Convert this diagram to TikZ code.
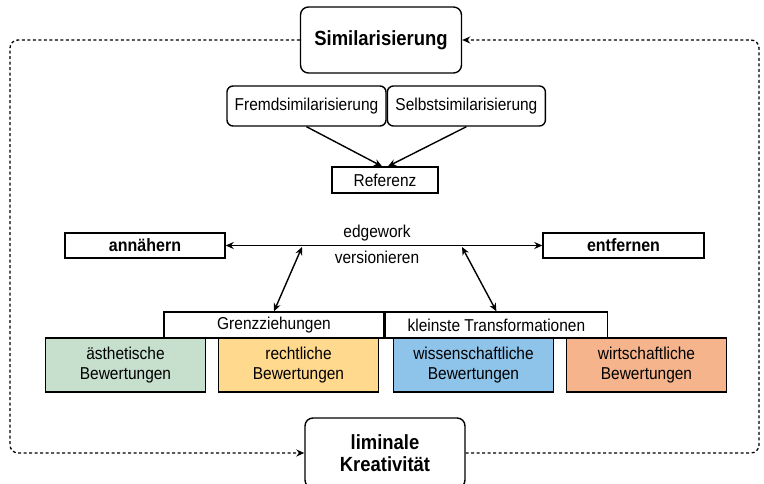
\documentclass[tikz,border=0pt]{standalone}
\usepackage{fontspec}
\setmainfont{Liberation Sans}[FakeStretch=0.9]
\usetikzlibrary{positioning,arrows.meta}
\definecolor{aesthcol}{HTML}{C6E0CD}
\definecolor{rechtcol}{HTML}{FFD98E}
\definecolor{wisscol}{HTML}{8EC3EA}
\definecolor{wirtcol}{HTML}{F5B48C}

\begin{document}
\begin{tikzpicture}[x=1pt, y=-1pt, line width=1.4pt, >={Stealth[length=8pt,width=7pt]},
  font=\fontsize{17.2}{20}\selectfont,
  rbox/.style = {draw, rounded corners=6pt, align=center, inner sep=0pt},
  sbox/.style = {draw, align=center, inner sep=0pt},
  cbox/.style = {draw, fill=#1, align=center, inner sep=0pt, minimum width=160pt, minimum height=54pt},
  bigbold/.style = {font=\fontsize{20.5}{22}\selectfont\bfseries},
  loopline/.style = {line width=1.3pt, dash pattern=on 3pt off 2.5pt, rounded corners=8pt}]
	\useasboundingbox (0,0) rectangle (764,484);
	% oben
	\node[rbox, bigbold, rounded corners=8pt, minimum width=161pt, minimum height=66pt] (sim) at (381,40) {Similarisierung};
	\node[rbox, minimum width=159pt, minimum height=40pt] (fremd) at (306.5,106) {Fremdsimilarisierung};
	\node[rbox, minimum width=158pt, minimum height=40pt, right=0pt of fremd] (selbst) {Selbstsimilarisierung};
	\node[sbox, minimum width=106pt, minimum height=26pt] (ref) at (385,180) {Referenz};
	% mitte
	\node[sbox, font=\fontsize{17.8}{20}\selectfont\bfseries, minimum width=160pt, minimum height=25pt] (ann) at (145,245.5) {annähern};
	\node[sbox, font=\fontsize{17.8}{20}\selectfont\bfseries, minimum width=161pt, minimum height=25pt] (ent) at (623.5,245.5) {entfernen};
	\node[anchor=base] (edge) at (377,237) {edgework};
	\node[anchor=base] (vers) at (377,264) {versionieren};
	\coordinate (e1) at (302,247);
	\coordinate (e2) at (462,247);
	% unten
	\node[sbox, minimum width=220pt, minimum height=26pt] (grenz) at (274,325) {Grenzziehungen};
	\node[sbox, minimum width=222pt, minimum height=26pt, right=0pt of grenz] (klein) {kleinste Transformationen};
	\node[cbox=aesthcol] (aesth) at (125.5,365) {ästhetische\\Bewertungen};
	\node[cbox=rechtcol] (recht) at (298.5,365) {rechtliche\\Bewertungen};
	\node[cbox=wisscol] (wiss) at (473.5,365) {wissenschaftliche\\Bewertungen};
	\node[cbox=wirtcol] (wirt) at (646.5,365) {wirtschaftliche\\Bewertungen};
	\node[rbox, bigbold, rounded corners=8pt, minimum width=160pt, minimum height=70pt] (lim) at (385,453) {liminale\\Kreativität};
	% verbindungen
	\draw[->] (fremd.south) -- ([xshift=-3pt]ref.north);
	\draw[->] (selbst.south) -- ([xshift=3pt]ref.north);
	\draw[<->] (ann) -- (ent);
	\draw[<->] (e1) -- (grenz.north);
	\draw[<->] (e2) -- (klein.north);
	\draw[loopline, ->] (sim.west) -| (10,453) -- (lim.west);
	\draw[loopline, ->] (lim.east) -| (759,40) -- (sim.east);
\end{tikzpicture}
\end{document}
